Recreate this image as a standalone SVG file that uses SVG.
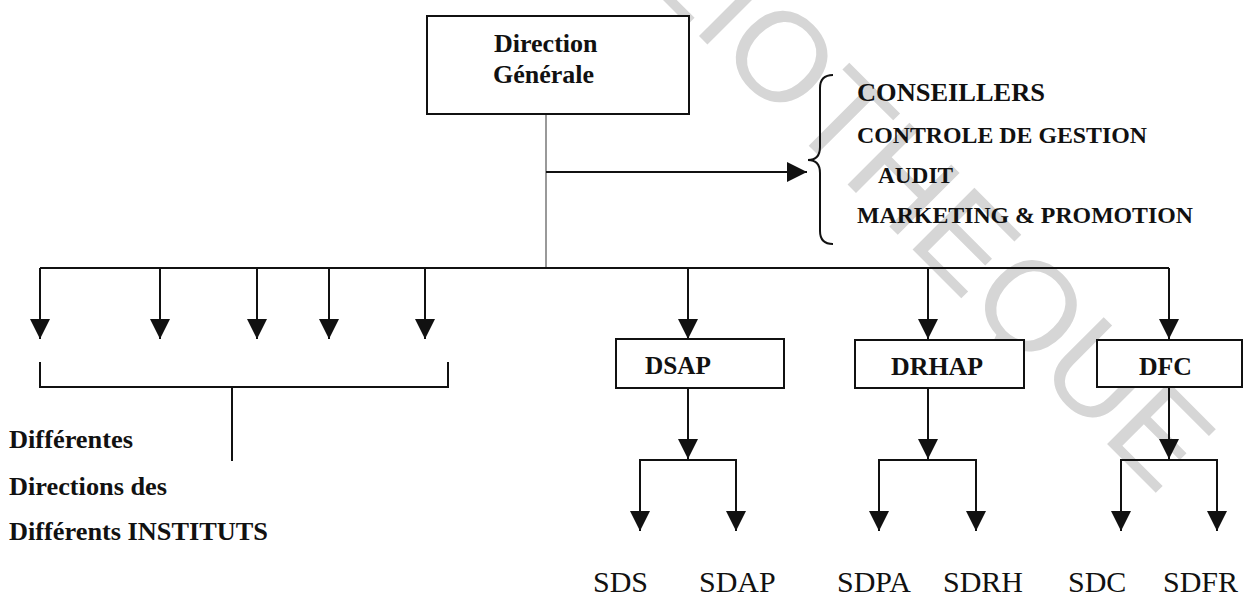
<svg xmlns="http://www.w3.org/2000/svg" width="1245" height="594" viewBox="0 0 1245 594">
  <style>
    .ln { stroke: #111; stroke-width: 2; fill: none; }
    .thin { stroke: #555; stroke-width: 1.2; fill: none; }
    .box { fill: #fff; stroke: #111; stroke-width: 2; }
    .b { font-family: "Liberation Serif", "Times New Roman", serif; font-weight: bold; fill: #111; }
    .r { font-family: "Liberation Serif", "Times New Roman", serif; font-size: 30px; fill: #111; }
    .wm { font-family: "Liberation Sans", Arial, sans-serif; font-size: 127px; fill: #d6d6d6; }
  </style>
  <defs>
    <marker id="ah" viewBox="0 0 20 20" refX="20" refY="10" markerWidth="20" markerHeight="20" markerUnits="userSpaceOnUse" orient="auto">
      <path d="M0,0 L20,10 L0,20 z" fill="#111"/>
    </marker>
  </defs>
  <rect width="1245" height="594" fill="#fff"/>

  <!-- library stamp across the page -->
  <text class="wm" transform="translate(496,-167) rotate(45)">BIBLIOTHEQUE</text>

  <g id="connectors">
    <line class="thin" x1="546" y1="114" x2="546" y2="268"/>
    <line class="ln" x1="546" y1="172" x2="807" y2="172" marker-end="url(#ah)"/>
    <path class="ln" d="M833,75 Q820,75 820,88 L820,147 Q820,160 808,160 Q820,160 820,173 L820,231 Q820,244 833,244" stroke-width="1.5"/>
    <line class="ln" x1="40" y1="268" x2="1169" y2="268"/>
    <line class="ln" x1="40" y1="268" x2="40" y2="339" marker-end="url(#ah)"/>
    <line class="ln" x1="160" y1="268" x2="160" y2="339" marker-end="url(#ah)"/>
    <line class="ln" x1="257" y1="268" x2="257" y2="339" marker-end="url(#ah)"/>
    <line class="ln" x1="329" y1="268" x2="329" y2="339" marker-end="url(#ah)"/>
    <line class="ln" x1="425" y1="268" x2="425" y2="339" marker-end="url(#ah)"/>
    <line class="ln" x1="688" y1="268" x2="688" y2="339" marker-end="url(#ah)"/>
    <line class="ln" x1="928" y1="268" x2="928" y2="339" marker-end="url(#ah)"/>
    <line class="ln" x1="1169" y1="268" x2="1169" y2="339" marker-end="url(#ah)"/>
    <!-- grouping bracket under the institute arrows -->
    <path class="ln" d="M40,362 L40,387 L448,387 L448,362" stroke-width="1.6"/>
    <line class="ln" x1="232" y1="387" x2="232" y2="461" stroke-width="1.6"/>
    <!-- DSAP sub-branches -->
    <line class="ln" x1="688" y1="388" x2="688" y2="459" marker-end="url(#ah)"/>
    <path class="ln" d="M640,531 L640,460 L736,460 L736,531"/>
    <line class="ln" x1="640" y1="470" x2="640" y2="531" marker-end="url(#ah)"/>
    <line class="ln" x1="736" y1="470" x2="736" y2="531" marker-end="url(#ah)"/>
    <!-- DRHAP sub-branches -->
    <line class="ln" x1="928" y1="388" x2="928" y2="459" marker-end="url(#ah)"/>
    <path class="ln" d="M879,531 L879,460 L976,460 L976,531"/>
    <line class="ln" x1="879" y1="470" x2="879" y2="531" marker-end="url(#ah)"/>
    <line class="ln" x1="976" y1="470" x2="976" y2="531" marker-end="url(#ah)"/>
    <!-- DFC sub-branches -->
    <line class="ln" x1="1169" y1="388" x2="1169" y2="459" marker-end="url(#ah)"/>
    <path class="ln" d="M1121,531 L1121,460 L1217,460 L1217,531"/>
    <line class="ln" x1="1121" y1="470" x2="1121" y2="531" marker-end="url(#ah)"/>
    <line class="ln" x1="1217" y1="470" x2="1217" y2="531" marker-end="url(#ah)"/>
  </g>

  <g id="direction-generale">
    <rect class="box" x="427" y="16" width="262" height="98"/>
    <text class="b" x="494" y="52" font-size="26">Direction</text>
    <text class="b" x="493" y="83" font-size="26">Générale</text>
  </g>

  <g id="services-rattaches">
    <text class="b" x="857" y="101" font-size="26" textLength="188" lengthAdjust="spacingAndGlyphs">CONSEILLERS</text>
    <text class="b" x="857" y="143" font-size="24" textLength="290" lengthAdjust="spacingAndGlyphs">CONTROLE DE GESTION</text>
    <text class="b" x="878" y="183" font-size="24" textLength="75" lengthAdjust="spacingAndGlyphs">AUDIT</text>
    <text class="b" x="857" y="223" font-size="24" textLength="336" lengthAdjust="spacingAndGlyphs">MARKETING &amp; PROMOTION</text>
  </g>

  <g id="instituts">
    <text class="b" x="9" y="448" font-size="26" textLength="124" lengthAdjust="spacingAndGlyphs">Différentes</text>
    <text class="b" x="9" y="495" font-size="26" textLength="158" lengthAdjust="spacingAndGlyphs">Directions des</text>
    <text class="b" x="9" y="540" font-size="26" textLength="259" lengthAdjust="spacingAndGlyphs">Différents INSTITUTS</text>
  </g>

  <g id="dsap">
    <rect class="box" x="616" y="339" width="168" height="49"/>
    <text class="b" x="645" y="374" font-size="26" textLength="66" lengthAdjust="spacingAndGlyphs">DSAP</text>
  </g>
  <g id="drhap">
    <rect class="box" x="855" y="340" width="169" height="48"/>
    <text class="b" x="891" y="375" font-size="26" textLength="92" lengthAdjust="spacingAndGlyphs">DRHAP</text>
  </g>
  <g id="dfc">
    <rect class="box" x="1097" y="340" width="145" height="47"/>
    <text class="b" x="1139" y="375" font-size="26" textLength="53" lengthAdjust="spacingAndGlyphs">DFC</text>
  </g>

  <g id="sds"><text class="r" x="593" y="592">SDS</text></g>
  <g id="sdap"><text class="r" x="699" y="592">SDAP</text></g>
  <g id="sdpa"><text class="r" x="837" y="592">SDPA</text></g>
  <g id="sdrh"><text class="r" x="943" y="592">SDRH</text></g>
  <g id="sdc"><text class="r" x="1068" y="592">SDC</text></g>
  <g id="sdfr"><text class="r" x="1163" y="592">SDFR</text></g>
</svg>
